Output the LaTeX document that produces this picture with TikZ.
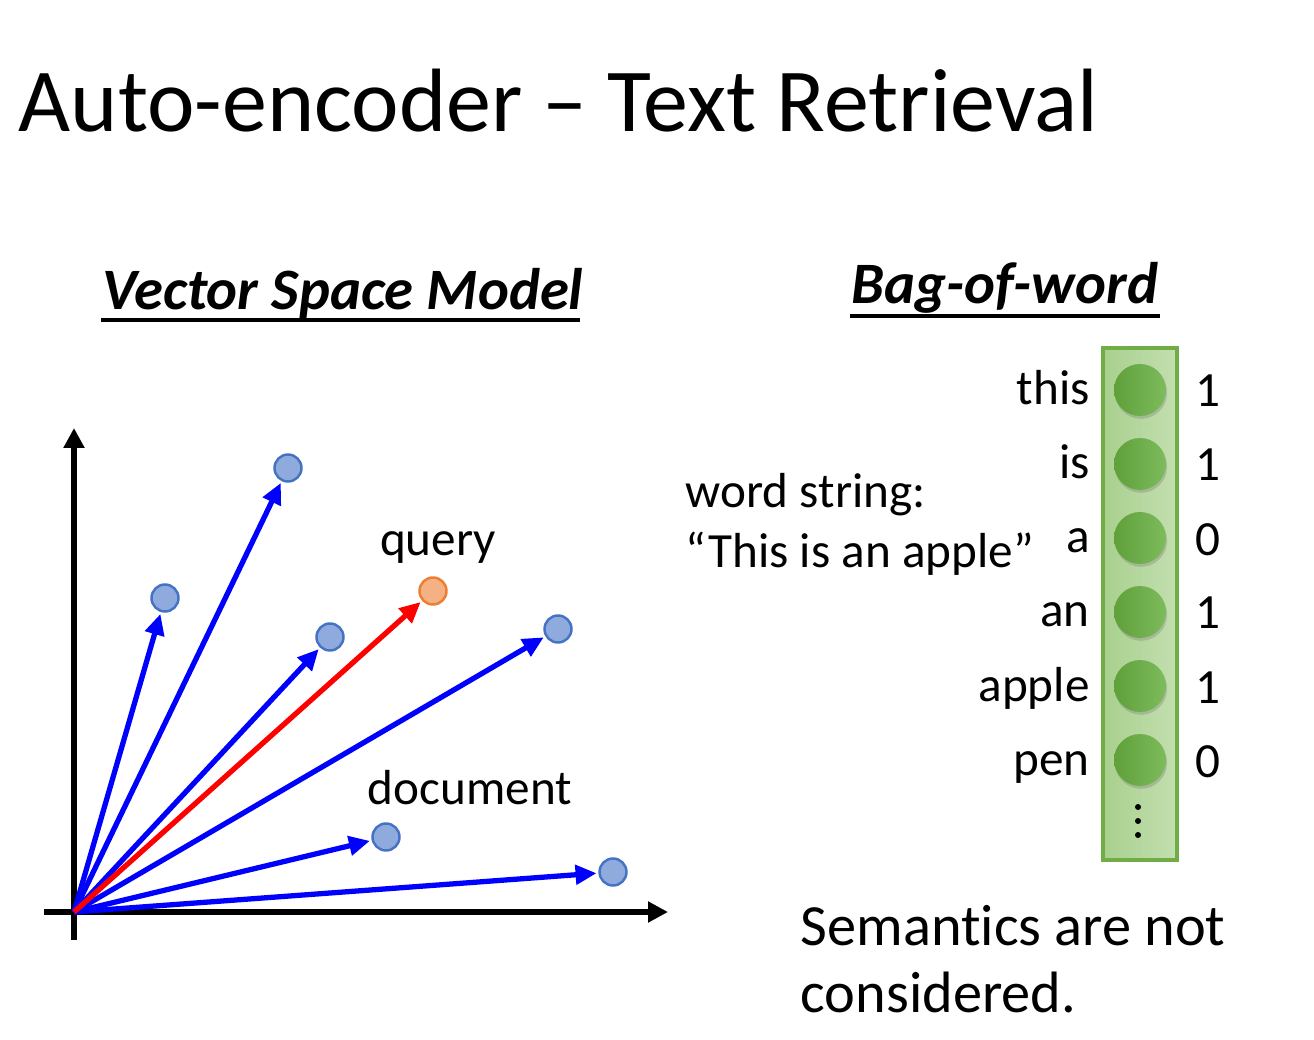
\documentclass[tikz,border=0pt]{standalone}
\usepackage{fontspec}
\setmainfont[Ligatures=NoCommon]{Carlito}
\usetikzlibrary{arrows.meta,shadows}
\definecolor{docfill}{HTML}{8FAADC}
\definecolor{docline}{HTML}{4472C4}
\definecolor{qfill}{HTML}{F4B183}
\definecolor{qline}{HTML}{ED7D31}
\definecolor{unitdark}{HTML}{5FA03A}
\definecolor{unitlight}{HTML}{7DBB5C}
\definecolor{colfill}{HTML}{A9D18E}
\definecolor{colline}{HTML}{70AD47}
\begin{document}
\begin{tikzpicture}[
  doc/.style={circle,draw=docline,fill=docfill,line width=0.7pt,minimum size=0.27cm,inner sep=0pt},
  qry/.style={circle,draw=qline,fill=qfill,line width=0.7pt,minimum size=0.27cm,inner sep=0pt},
  vec/.style={blue,line width=1.5pt,-{Triangle[length=0.21cm,width=0.19cm]},shorten >=0.5pt},
  axis/.style={black,line width=1.6pt,-{Triangle[length=0.2cm,width=0.2cm]}},
  unit/.style={circle,minimum size=0.52cm,inner sep=0pt,left color=unitdark,right color=unitlight,
    drop shadow={opacity=0.35,shadow xshift=0.3pt,shadow yshift=-0.8pt}},
  lbl/.style={font=\fontsize{14}{16}\selectfont,inner sep=0pt},
  head/.style={font=\fontsize{16.7}{20}\selectfont\bfseries\itshape,inner sep=0pt}]
  \useasboundingbox (0,0) rectangle (13.14,10.39);
  %% titles
  \node[anchor=base west,inner sep=0pt,font=\fontsize{25.6}{30}\selectfont] (title) at (0.18,9.07) {Auto-encoder -- Text Retrieval};
  \node[head,anchor=base] (vsm) at (3.43,7.29) {Vector Space Model};
  \draw[line width=0.9pt] (1.01,7.19) -- (5.80,7.19);
  \node[head,anchor=base] (bow) at (10.05,7.35) {Bag-of-word};
  \draw[line width=0.9pt] (8.50,7.23) -- (11.60,7.23);
  %% axes
  \coordinate (o) at (0.74,1.27);
  \coordinate (xl) at (0.44,1.27);
  \coordinate (xr) at (6.68,1.27);
  \coordinate (yb) at (0.74,0.99);
  \coordinate (yt) at (0.74,6.11);
  \draw[axis] (xl) -- (xr);
  \draw[axis] (yb) -- (yt);
  %% vectors
  \node[doc] (d1) at (2.88,5.71) {};
  \node[doc] (d2) at (1.65,4.41) {};
  \node[doc] (d3) at (3.30,4.02) {};
  \node[doc] (d4) at (5.58,4.10) {};
  \node[doc] (d5) at (3.86,2.02) {};
  \node[doc] (d6) at (6.13,1.67) {};
  \node[qry] (q) at (4.33,4.48) {};
  \foreach \d in {d1,d2,d3,d4,d5,d6}
    \draw[vec] (o) -- (\d);
  \draw[vec,red] (o) -- (q);
  \node[lbl] (qlbl) at (4.38,4.91) {query};
  \node[lbl] (dlbl) at (4.70,2.51) {document};
  %% bag of word
  \node[lbl,anchor=base west] (ws1) at (6.85,5.31) {word string:};
  \node[lbl,anchor=base west] (ws2) at (6.85,4.71) {``This is an apple''};
  \draw[draw=colline,line width=1pt,left color=colfill!90!black!5!colfill,right color=colfill!70!white] (11.03,1.79) rectangle (11.77,6.91);
  \foreach \w/\v [count=\i] in {this/1,is/1,a/0,an/1,apple/1,pen/0}{
    \node[unit] (u\i) at (11.40,{6.49-0.74*(\i-1)}) {};
    \node[lbl,anchor=base east] (w\i) at ([xshift=-0.23cm,yshift=-0.15cm]u\i.west) {\w};
    \node[lbl,anchor=base west] (v\i) at ([xshift=0.28cm,yshift=-0.17cm]u\i.east) {\v};
  }
  \foreach \y in {2.32,2.18,2.04}
    \fill (11.38,\y) circle (0.03);
  \node[anchor=base west,inner sep=0pt,font=\fontsize{16.6}{20}\selectfont] (sem1) at (8.00,0.94) {Semantics are not};
  \node[anchor=base west,inner sep=0pt,font=\fontsize{16.6}{20}\selectfont] (sem2) at (8.00,0.27) {considered.};
\end{tikzpicture}
\end{document}
